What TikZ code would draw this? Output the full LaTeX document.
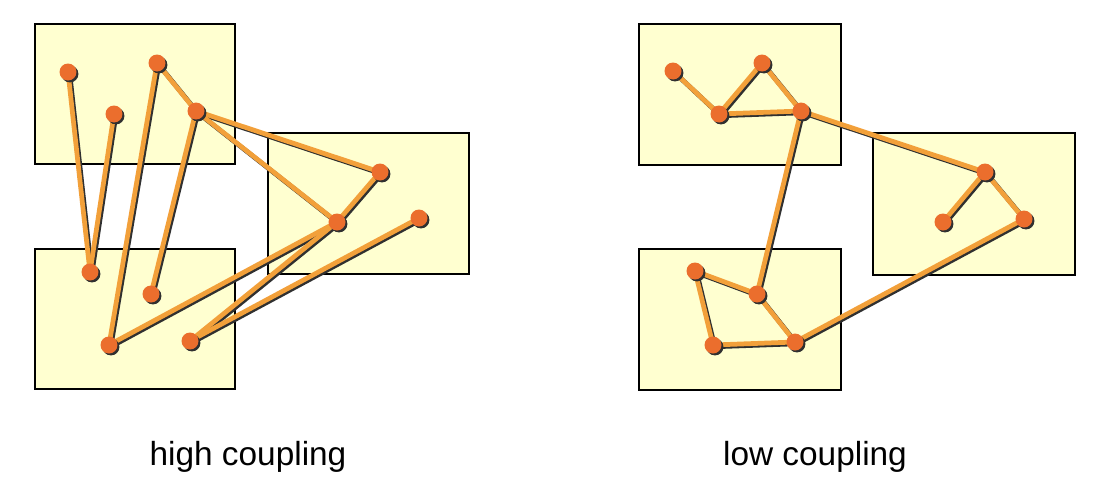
\documentclass[tikz,border=0pt]{standalone}
\usepackage{fontspec}
\setmainfont{Liberation Sans}
\usetikzlibrary{positioning}
\definecolor{boxfill}{HTML}{FFFFD0}
\definecolor{linkcol}{HTML}{F2A03A}
\definecolor{dotcol}{HTML}{EB6E2D}
\definecolor{shadowgray}{HTML}{303030}
\tikzset{
  module/.style={draw=black, fill=boxfill, line width=0.6pt},
  link/.style={linkcol, line width=2.7pt},
  linkshadow/.style={shadowgray, line width=2.7pt, transform canvas={xshift=1pt, yshift=-1pt}},
  pt/.style={inner sep=0pt, minimum size=0pt},
  caption/.style={font=\fontsize{19}{22}\selectfont},
}

\begin{document}
\begin{tikzpicture}[x=0.02cm, y=-0.02cm]
	\useasboundingbox (0,0) rectangle (1102,494);
	% modules, high coupling
	\draw[module] (35,24) rectangle (235,164);
	\draw[module] (35,249) rectangle (235,389);
	\draw[module] (268,133) rectangle (469,274);
	% modules, low coupling
	\draw[module] (639,24) rectangle (841,165);
	\draw[module] (639,249) rectangle (841,390);
	\draw[module] (873,133) rectangle (1075,275);

	% elements, high coupling
		\node[pt] (a1) at (68,72) {};
		\node[pt] (a2) at (114,114) {};
		\node[pt] (a3) at (157,63) {};
		\node[pt] (a4) at (196,111) {};
		\node[pt] (b1) at (90,272) {};
		\node[pt] (b2) at (151,294) {};
		\node[pt] (b3) at (109,345) {};
		\node[pt] (b4) at (190,341) {};
		\node[pt] (c1) at (380,172) {};
		\node[pt] (c2) at (337,222) {};
		\node[pt] (c3) at (419,218) {};
	% elements, low coupling
		\node[pt] (d1) at (673,71) {};
		\node[pt] (d2) at (719,114) {};
		\node[pt] (d3) at (762,63) {};
		\node[pt] (d4) at (801,111) {};
		\node[pt] (e1) at (695,271) {};
		\node[pt] (e2) at (757,294) {};
		\node[pt] (e3) at (713,345) {};
		\node[pt] (e4) at (795,342) {};
		\node[pt] (f1) at (985,172) {};
		\node[pt] (f2) at (943,222) {};
		\node[pt] (f3) at (1024,219) {};

	\foreach \s/\t in {a1/b1,a2/b1,a3/b3,a3/a4,a4/b2,a4/c1,a4/c2,c1/c2,c2/b3,c2/b4,c3/b4,
		d1/d2,d2/d3,d3/d4,d2/d4,d4/e2,d4/f1,f1/f2,f1/f3,f3/e4,e1/e2,e1/e3,e2/e4,e3/e4}
		\draw[linkshadow] (\s.center) -- (\t.center);
	\foreach \s/\t in {a1/b1,a2/b1,a3/b3,a3/a4,a4/b2,a4/c1,a4/c2,c1/c2,c2/b3,c2/b4,c3/b4,
		d1/d2,d2/d3,d3/d4,d2/d4,d4/e2,d4/f1,f1/f2,f1/f3,f3/e4,e1/e2,e1/e3,e2/e4,e3/e4}
		\draw[link] (\s.center) -- (\t.center);

	\foreach \n in {a1,a2,a3,a4,b1,b2,b3,b4,c1,c2,c3,d1,d2,d3,d4,e1,e2,e3,e4,f1,f2,f3}{
		\fill[shadowgray] ([shift={(1.1pt,-1.1pt)}]\n.center) circle[radius=0.17cm];
		\fill[dotcol] (\n.center) circle[radius=0.17cm];
	}

	\node[caption] (high) at (248,457) {high coupling};
	\node[caption] (low) at (815,457) {low coupling};
\end{tikzpicture}
\end{document}
